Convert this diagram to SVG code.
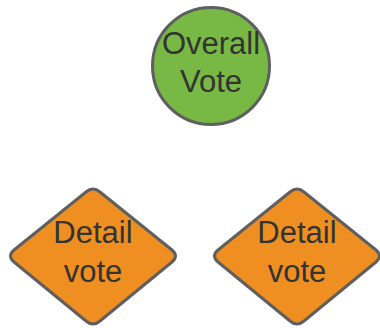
<svg xmlns="http://www.w3.org/2000/svg" width="380" height="328" viewBox="0 0 380 328">
  <style>
    .shape { stroke: #5f5f5f; stroke-width: 3; stroke-linejoin: round; }
    .overall { fill: #77b944; }
    .detail { fill: #f08f21; }
    .label { font-family: "Liberation Sans", Arial, sans-serif; font-size: 31px; fill: #333333; text-anchor: middle; }
  </style>
  <rect width="380" height="328" fill="#ffffff"/>
  <g id="connectors"></g>
  <g id="overall-vote">
    <circle class="shape overall" cx="211" cy="66" r="58.5"/>
    <text class="label" x="211" y="54">Overall</text>
    <text class="label" x="211" y="92">Vote</text>
  </g>
  <g id="detail-vote-1">
    <path class="shape detail" d="M86,192 Q93,186 100,192 L172,250 Q179,256 172,262 L100,321 Q93,327 86,321 L14,262 Q7,256 14,250 Z"/>
    <text class="label" x="93" y="243">Detail</text>
    <text class="label" x="93" y="282">vote</text>
  </g>
  <g id="detail-vote-2">
    <path class="shape detail" d="M290,192 Q297,186 304,192 L376,250 Q383,256 376,262 L304,321 Q297,327 290,321 L218,262 Q211,256 218,250 Z"/>
    <text class="label" x="297" y="243">Detail</text>
    <text class="label" x="297" y="282">vote</text>
  </g>
</svg>
